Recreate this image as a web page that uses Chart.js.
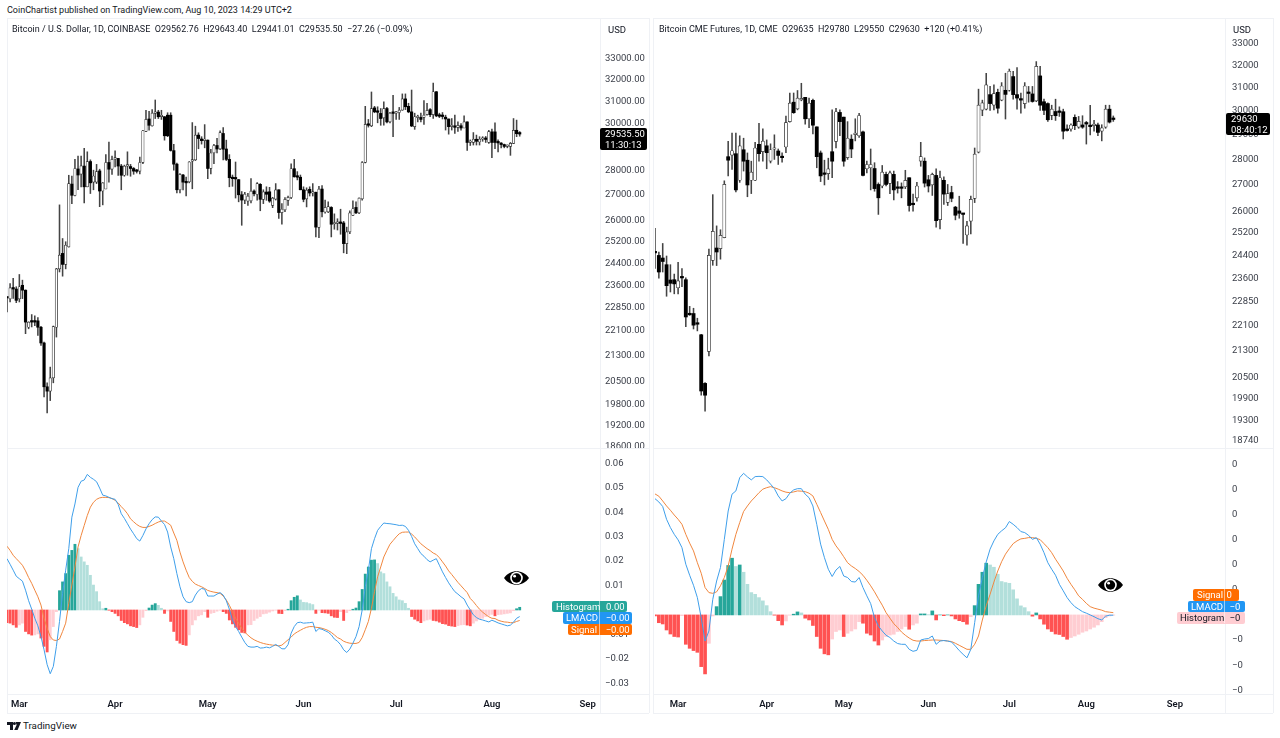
<!DOCTYPE html>
<html>
<head>
<meta charset="utf-8">
<title>Bitcoin vs CME Futures</title>
<script src="https://cdn.jsdelivr.net/npm/chart.js@4/dist/chart.umd.min.js"></script>
<style>
body { margin: 0; background: #fff; font-family: Roboto, sans-serif; color: #131722; }
#page { position: relative; width: 1280px; height: 738px; overflow: hidden; }
#page canvas { position: absolute; }
.txt { position: absolute; font-size: 9px; line-height: 12px; white-space: pre; }
.line { position: absolute; background: #eff1f5; }
.tag { position: absolute; height: 11.5px; line-height: 11.5px; font-size: 9.5px; color: #fff; white-space: pre; text-align: right; border-radius: 2px; }
.price { position: absolute; background: #000; color: #fff; font-size: 9.5px; line-height: 11px; padding: 0 0 0 5px; border-radius: 2px; white-space: pre; }
svg { position: absolute; }
</style>
</head>
<body>
<div id="page">
  <div class="line" style="left:7px;top:18px;width:642px;height:1px"></div>
  <div class="line" style="left:7px;top:448px;width:642px;height:1px"></div>
  <div class="line" style="left:7px;top:694px;width:642px;height:1px"></div>
  <div class="line" style="left:7px;top:713px;width:642px;height:1px"></div>
  <div class="line" style="left:7px;top:18px;width:1px;height:695px"></div>
  <div class="line" style="left:600px;top:18px;width:1px;height:695px"></div>
  <div class="line" style="left:649px;top:18px;width:1px;height:695px"></div>
  <div class="line" style="left:653px;top:18px;width:620px;height:1px"></div>
  <div class="line" style="left:653px;top:448px;width:620px;height:1px"></div>
  <div class="line" style="left:653px;top:694px;width:620px;height:1px"></div>
  <div class="line" style="left:653px;top:713px;width:620px;height:1px"></div>
  <div class="line" style="left:653px;top:18px;width:1px;height:695px"></div>
  <div class="line" style="left:1225px;top:18px;width:1px;height:695px"></div>
  <div class="line" style="left:1273px;top:18px;width:1px;height:695px"></div>

  <canvas id="btcPrice" width="642" height="430" style="left:7px;top:18px"></canvas>
  <canvas id="btcMacd" width="642" height="264" style="left:7px;top:449px"></canvas>
  <canvas id="cmePrice" width="620" height="430" style="left:653px;top:18px"></canvas>
  <canvas id="cmeMacd" width="620" height="264" style="left:653px;top:449px"></canvas>

  <div class="txt" style="left:7px;top:4px">CoinChartist published on TradingView.com, Aug 10, 2023 14:29 UTC+2</div>
  <div class="txt" style="left:12px;top:23px">Bitcoin / U.S. Dollar, 1D, COINBASE  O29562.76  H29643.40  L29441.01  C29535.50  −27.26 (−0.09%)</div>
  <div class="txt" style="left:659px;top:23px">Bitcoin CME Futures, 1D, CME  O29635  H29780  L29550  C29630  +120 (+0.41%)</div>
  <div class="txt" style="left:608px;top:24px;font-size:9.5px">USD</div>
  <div class="txt" style="left:1233px;top:24px;font-size:9.5px">USD</div>

  <div class="price" style="left:600px;top:128px;width:42px;height:22px">29535.50
11:30:13</div>
  <div class="price" style="left:1226px;top:113px;width:39px;height:22px">29630
08:40:12</div>

  <div class="tag" style="left:552px;top:600.5px;width:75px;background:#26a69a"><span style="position:absolute;left:4px">Histogram</span>0.00 </div>
  <div class="tag" style="left:563px;top:612px;width:69px;background:#2196f3"><span style="position:absolute;left:3px">LMACD</span>−0.00 </div>
  <div class="tag" style="left:568px;top:623.5px;width:64px;background:#ff6d00"><span style="position:absolute;left:3px">Signal</span>−0.00 </div>
  <div class="line" style="left:599px;top:600px;width:1px;height:35px;background:#ffffff88"></div>

  <div class="tag" style="left:1193px;top:589px;width:46px;background:#ff6d00"><span style="position:absolute;left:4px">Signal</span>0   </div>
  <div class="tag" style="left:1188px;top:600.5px;width:57px;background:#2196f3"><span style="position:absolute;left:3px">LMACD</span>−0  </div>
  <div class="tag" style="left:1177px;top:612px;width:68px;background:#ffcdd2;color:#131722"><span style="position:absolute;left:3px">Histogram</span>−0  </div>
  <div class="line" style="left:1224px;top:589px;width:1px;height:34px;background:#ffffff88"></div>

  <svg style="left:504px;top:569px" width="25" height="18" viewBox="0 0 25 18"><path d="M0 9C6 0 19 0 25 9C19 18 6 18 0 9Z" fill="#000"/><circle cx="12.5" cy="9" r="6.3" fill="#fff"/><circle cx="12.5" cy="9" r="4.7" fill="#000"/><circle cx="10.6" cy="7.2" r="1.4" fill="#fff"/></svg>
  <svg style="left:1098px;top:576px" width="25" height="18" viewBox="0 0 25 18"><path d="M0 9C6 0 19 0 25 9C19 18 6 18 0 9Z" fill="#000"/><circle cx="12.5" cy="9" r="6.3" fill="#fff"/><circle cx="12.5" cy="9" r="4.7" fill="#000"/><circle cx="10.6" cy="7.2" r="1.4" fill="#fff"/></svg>

  <svg style="left:7px;top:722px" width="14" height="8" viewBox="0 0 14 8"><path d="M0 0H6V8H3V3H0Z M8.6 0H14L10.6 8H7.2L9.6 3Z" fill="#131722"/><circle cx="7.4" cy="1.5" r="1.5" fill="#131722"/></svg>
  <div class="txt" style="left:23px;top:720px;font-size:9.8px">TradingView</div>
</div>

<script>
// tick labels
var monthNames = ["Mar", "Apr", "May", "Jun", "Jul", "Aug", "Sep"];
var btcMonthIndex = [4, 35, 65, 96, 126, 157, 188];
var cmeMonthIndex = [6, 29, 49, 71, 92, 112, 135];
var btcPriceTicks = [33000, 32000, 31000, 30000, 29000, 28000, 27000, 26000, 25200, 24400, 23600, 22850, 22100, 21300, 20500, 19800, 19200, 18600];
var cmePriceTicks = [33000, 32000, 31000, 30000, 29000, 28000, 27000, 26000, 25200, 24400, 23600, 22850, 22100, 21300, 20500, 19900, 19300, 18740];
var macdTicks = [600, 500, 400, 300, 200, 100, 0, -100, -200, -300]; // in 0.0001

// Coinbase BTCUSD daily, from Feb 25
var btcOpen = [23200,23150,23510,23490,23150,23620,23450,22200,22400,22420,22410,22200,21690,20330,20200,20600,22200,24200,24760,24360,25000,27430,26970,28050,27840,28170,27320,28360,27510,27510,27970,27150,27230,28320,28040,28460,28490,28170,27790,28170,28150,28070,27960,27960,28320,29650,30200,29890,30450,30510,30300,30300,30370,30370,28820,28250,27200,27800,27540,27520,28380,28430,29490,29320,29250,29270,28070,28720,29040,28890,29560,28890,28450,27690,27650,27610,27000,26790,26750,26760,27150,27010,27420,26820,27110,27120,26580,26830,27200,26300,26400,26780,26890,28060,27730,27710,27200,26840,27220,27070,27100,25730,27230,26320,26330,26500,25860,25880,25900,25900,25120,25560,26190,26500,26290,26840,28320,29970,29890,30700,30520,30450,30250,30670,30070,30480,30460,30490,30600,31110,30770,30520,29860,30260,30270,30270,30390,30620,30390,31440,30340,30320,30280,30200,29860,29890,29830,29900,29800,30070,29170,29170,29310,29190,29310,29330,29170,29630,29630,29170,29130,29080,29000,29000,29130,29700,29562.76];
var btcHigh = [23220,23680,23860,23570,24000,23800,23460,22380,22620,22580,22520,22230,21720,20450,20930,22240,24220,26600,25310,25190,27790,27760,28450,28590,28590,28920,28770,28430,28000,28240,28040,27490,28650,29190,28590,28810,28490,28240,28210,28770,28240,28110,28030,28550,29700,30590,30540,30620,31060,30590,30590,30310,30480,30480,29090,28290,27860,27830,27720,28360,30040,29880,29590,29420,29950,29280,28880,29090,29350,29680,29820,29270,28650,27800,28340,27620,27130,27100,27060,27650,27200,27490,27450,27200,27320,27300,26900,27450,27200,26650,26890,26950,28260,28450,27940,27800,27320,27280,27320,27450,27110,27340,27370,26790,26720,26530,26250,26060,26430,25960,25740,26370,26760,26720,26880,28360,30770,30180,31430,30770,30750,30670,30980,30720,30500,31270,30530,30720,31340,31340,30910,31520,30460,30370,30460,31030,30910,30670,31840,31450,30460,30490,30370,30200,30220,30370,30070,30000,30340,30070,29280,29600,29490,29420,29420,29430,29700,29750,30030,29280,29170,29100,29060,29170,30220,30150,29643.40];
var btcLow = [22710,23045,23165,23020,23045,23160,21990,22150,22210,22250,21930,21615,20030,19560,19920,20450,21880,24090,23940,24200,24990,26650,26950,27200,27320,26680,27320,27050,27200,27450,26530,26600,27230,27510,27820,28130,27780,27200,27750,27790,27750,27830,27880,27850,28270,29640,29710,29880,30220,30220,30180,29270,29420,28800,28000,27070,27070,27190,26950,27480,27240,28400,28900,29100,28940,27650,27850,28270,28720,28860,28430,28400,27320,27340,26870,26720,25810,26650,26580,26680,26950,26790,26370,26650,26780,26700,26490,26790,26070,25850,26330,26580,26850,27710,27600,27200,26720,26520,26950,26950,25370,25340,26130,26280,26300,25370,25660,25630,25470,24780,24750,25490,26190,26260,26260,26790,28300,29840,29860,30480,30030,29920,29920,30030,30030,29420,30180,30180,30590,30620,30480,29860,29740,30070,30070,29960,30370,30300,30220,30300,30260,30200,29710,29530,29710,29560,29650,29710,29800,28830,29040,29060,29060,29060,29220,29170,29130,28520,28900,28770,28940,28940,28940,28620,29120,29420,29441.01];
var btcClose = [23180,23530,23490,23100,23570,23450,22370,22370,22370,22370,22200,21690,20330,20200,20600,22220,24200,24700,24360,25060,27450,26980,28070,27800,28180,27320,28360,27480,27760,27940,27150,27480,28320,28040,28450,28490,28170,27790,28170,28190,28070,27960,27950,28320,29680,30180,29920,30460,30490,30300,30310,29460,29460,28830,28250,27200,27830,27510,27480,28340,28440,29490,29340,29250,29320,28070,28720,29040,28890,29600,28880,28450,27690,27650,27640,27000,26790,27030,26950,27150,27040,27450,26820,27120,27020,26750,26870,27200,26300,26430,26820,26900,28060,27730,27710,27200,26820,27190,27070,27100,25740,27230,26330,26500,26530,25850,25870,25900,25880,25120,25560,26290,26450,26290,26870,28320,29960,29920,30670,30520,30500,30220,30670,30070,30460,30450,30490,30600,31110,30750,30520,29890,30300,30270,30180,30370,30590,30390,31440,30340,30320,30310,30200,29860,29920,29830,29920,29800,30070,29170,29190,29310,29220,29310,29330,29300,29640,29170,29170,29150,29080,29000,29000,29130,29700,29550,29535.50];

// LMACD panel, Coinbase, in 0.0001
var btcMacdLine = [210,187,163,138,128,118,81,38,3,-34,-65,-109,-163,-224,-261,-231,-149,-47,68,163,251,380,434,502,527,532,555,543,535,525,499,470,467,461,456,453,432,394,375,353,331,312,292,282,305,332,353,370,381,380,364,350,319,258,210,149,95,54,34,30,34,61,79,88,85,57,57,57,65,71,61,38,3,-41,-68,-88,-111,-133,-149,-152,-152,-149,-156,-155,-152,-155,-149,-141,-149,-159,-159,-142,-95,-68,-52,-50,-54,-53,-52,-50,-88,-76,-79,-85,-91,-102,-119,-128,-142,-163,-174,-160,-136,-109,-68,0,95,163,251,292,326,342,356,354,353,351,349,346,347,342,326,301,271,251,231,220,206,197,204,210,183,156,133,111,92,75,65,54,45,20,0,-20,-31,-38,-41,-45,-49,-42,-47,-53,-57,-61,-65,-62,-50,-34,-27];
var btcSignal = [261,244,224,210,197,183,160,133,109,81,54,20,-34,-75,-109,-123,-125,-119,-88,-54,27,102,176,258,305,346,387,421,441,453,459,461,461,460,456,449,438,423,410,394,373,361,350,342,338,338,342,347,354,360,364,364,356,347,315,285,237,197,163,133,117,106,100,95,88,80,76,73,71,68,57,41,19,-7,-34,-54,-75,-91,-103,-114,-122,-128,-133,-137,-140,-142,-144,-145,-147,-144,-133,-122,-111,-98,-90,-83,-76,-71,-68,-68,-71,-72,-75,-79,-84,-92,-102,-113,-119,-128,-133,-136,-137,-137,-133,-113,-81,-47,7,75,136,176,217,244,269,284,299,312,318,319,319,311,299,285,271,261,251,243,233,227,214,197,180,160,145,129,113,99,85,71,47,34,18,3,-9,-19,-28,-34,-35,-42,-46,-49,-50,-52,-52,-47,-43];
var btcHist = [-52,-54,-61,-71,-61,-54,-88,-98,-103,-102,-98,-115,-149,-172,-122,-68,-7,79,115,149,224,244,269,251,217,197,183,142,102,75,34,5,7,-1,-7,-14,-24,-43,-52,-57,-65,-68,-72,-61,-30,-3,8,20,26,19,7,-14,-4,-47,-88,-125,-136,-142,-145,-102,-61,-41,-24,-20,-7,-30,-14,-11,-5,-1,-7,-14,-41,-57,-71,-81,-92,-94,-61,-60,-43,-34,-27,-16,-14,-9,-4,-1,-14,-15,-3,3,38,52,58,41,31,30,26,22,-14,-1,-11,-12,-14,-24,-30,-31,-7,-43,-11,-3,3,8,34,84,147,176,204,205,190,156,149,115,95,68,54,41,38,27,7,-27,-38,-45,-52,-45,-41,-38,-43,-45,-50,-56,-58,-64,-66,-68,-64,-61,-60,-62,-65,-54,-45,-38,-34,-27,-22,-18,-24,-19,-18,-16,-14,-12,-3,5,11];

// CME BTC futures daily, trading days only
var cmeOpen = [24530,24410,24320,24090,23570,23580,23310,23670,23580,22470,22470,22160,21800,20340,21290,24240,24670,24650,25040,28100,28160,28220,27170,28380,27960,27170,27170,28600,28300,28540,27920,28400,28330,28090,28490,29540,30370,30080,30470,30580,29660,30450,29320,28250,27420,27430,28300,28720,29930,29730,28060,28810,29000,28950,29110,27620,27660,27630,27010,26950,27400,27050,27400,26880,26870,26920,27270,26250,26500,27920,27920,27190,26990,27360,25690,27170,26330,26700,26150,26010,25900,25130,25630,26480,28280,30030,30070,30700,30240,30800,30460,30890,30890,31500,30700,30480,30310,30770,30730,30430,31530,30390,30310,29800,29970,29950,29960,29180,29230,29720,29310,29400,29450,29340,29370,29400,29140,29310,30070,29635];
var cmeHigh = [25370,24530,24830,24390,24090,23770,24170,23960,23640,22700,22640,22320,21810,20360,24630,26620,25460,25320,27150,28720,29060,29060,28950,28850,28250,27920,28680,29470,29240,28780,28620,28990,28410,28250,29770,30770,30770,30880,31200,30580,30550,30510,29320,28330,27960,28040,30040,30110,30040,29730,29540,28990,29660,29890,29140,27920,28410,27860,27070,27750,27490,27530,27530,27120,27070,27560,27270,26640,27090,28680,28050,27360,27450,27620,27530,27300,27010,26940,26180,26560,25900,25630,26570,28450,30940,30460,31650,31060,31130,30940,31230,31650,31840,31740,31910,30770,31230,31060,31060,32180,31960,30500,30340,30240,30500,30170,30070,29410,29450,29830,29760,29790,29550,30230,29590,29480,29410,30240,30240,29780];
var cmeLow = [23960,23630,23840,23030,23170,23110,23110,23350,22050,22410,21980,21920,20000,19550,21150,24070,24060,24280,25030,27340,27590,26720,27090,27530,26540,26660,27160,27920,27920,27620,27850,27990,27790,27880,28260,29520,29890,30040,30430,29430,29290,29030,27660,27120,26990,27200,27270,28450,28950,27720,27990,28060,28740,28880,27340,27460,26800,26750,25880,26880,26950,26660,26420,26680,26500,26850,26000,26000,26370,27720,26910,26720,26590,25410,25350,26250,26210,26350,25680,25740,24830,24770,25170,26320,28250,29790,30040,30020,30040,29900,30430,29650,30850,30500,30070,29900,30110,30370,30370,30390,30020,29830,29550,29620,29590,29760,28820,29140,29140,29200,29260,29260,28610,28990,29140,28950,28740,29260,29480,29550];
var cmeClose = [24500,23840,24200,23380,23460,23440,23540,23640,22360,22430,22100,22130,20120,20000,24410,25260,24530,25120,27010,27960,28340,26800,28540,27920,26990,27490,28450,28220,28730,28260,28380,28410,28150,28060,29500,30330,29920,30550,30490,29660,30330,29390,28100,27340,27400,27620,27920,29960,29540,27920,28850,28410,29010,29800,27360,27790,27790,26850,26500,27490,27010,27460,26800,26860,26860,27170,26210,26240,26950,28100,27060,26950,27400,25650,27270,26640,26660,26480,25850,25920,25880,25460,26440,28200,30240,30340,31130,30310,30740,30110,31080,30710,31740,30700,30550,30460,31080,30750,30400,31960,30240,30020,29620,30070,29790,29930,29140,29170,29400,29370,29550,29310,29440,29330,29390,29090,29280,30070,29520,29630];

// LMACD panel, CME, in 0.0001
var cmeMacdLine = [463,450,432,381,348,321,299,268,202,158,118,69,-11,-104,-64,62,135,189,301,414,481,494,547,564,550,538,551,552,551,538,521,503,474,454,463,485,498,503,503,481,467,434,361,282,228,182,153,179,193,155,149,133,131,149,109,76,45,-11,-44,-64,-81,-90,-104,-114,-117,-117,-137,-145,-141,-100,-96,-94,-84,-117,-104,-102,-104,-108,-124,-142,-157,-171,-137,-31,76,149,211,262,295,321,335,347,372,361,348,332,328,317,301,308,282,248,208,182,158,122,96,69,49,33,23,13,7,0,-7,-15,-20,-5,-1,-1];
var cmeSignal = [482,473,454,434,417,398,381,361,321,286,255,208,166,109,89,86,92,116,149,195,262,321,368,412,434,454,470,487,501,507,511,507,501,494,489,487,490,494,493,491,485,474,441,408,374,341,301,275,255,232,208,195,185,173,158,138,116,92,65,39,9,-13,-35,-50,-68,-81,-92,-101,-104,-104,-102,-101,-100,-100,-101,-102,-104,-106,-113,-121,-129,-137,-137,-117,-84,-20,36,82,131,175,212,242,264,284,295,303,305,308,308,305,300,284,268,248,222,199,175,146,122,100,76,62,46,33,27,23,19,13,11,9];
var cmeHist = [-4,-31,-36,-60,-76,-86,-88,-3,-117,-133,-142,-149,-206,-235,-113,-4,33,73,139,197,226,193,199,170,122,89,82,69,56,37,13,-1,-23,-40,-24,-1,3,12,8,-13,-20,-42,-86,-133,-155,-159,-96,-66,-60,-86,-73,-64,-56,-27,-33,-73,-80,-104,-120,-100,-86,-80,-77,-66,-56,-46,-57,-40,-33,4,4,1,16,-20,0,-3,0,-4,-16,-23,-27,-37,-7,37,122,170,206,199,190,162,133,129,126,100,64,36,29,13,-5,8,-16,-37,-56,-66,-76,-78,-86,-97,-90,-84,-77,-69,-64,-56,-49,-40,-27,-11,-4,-1];

Chart.defaults.font.family = "Roboto, sans-serif";
Chart.defaults.font.size = 9.5;
Chart.defaults.color = "#131722";

function etiquetasEje(total, indices) {
    var etiquetas = new Array(total).fill("");
    indices.forEach(function (ind, i) { etiquetas[ind] = monthNames[i]; });
    return etiquetas;
}

// sin esto el layout mete margen por las etiquetas de los extremos
function sinPadding(s) {
    s.paddingTop = 0;
    s.paddingBottom = 0;
    s.paddingLeft = 0;
    s.paddingRight = 0;
}

function pintarVelas(canvasId, o, h, l, c, p) {
    var velas = o.map(function (v, i) { return [v, c[i]]; });
    var mechas = l.map(function (v, i) { return [v, h[i]]; });
    var subida = o.map(function (v, i) { return c[i] >= v; });
    new Chart(document.getElementById(canvasId), {
        type: "bar",
        data: {
            labels: etiquetasEje(p.total, p.meses),
            datasets: [{
                data: velas,
                barThickness: p.ancho,
                minBarLength: 1.5,
                backgroundColor: subida.map(function (s) { return s ? "#ffffff" : "#000000"; }),
                borderColor: "#2a2a2a",
                borderWidth: subida.map(function (s) { return s ? 0.7 : 0; }),
                borderSkipped: false
            }, {
                data: mechas,
                barThickness: 0.9,
                backgroundColor: "#444444",
                borderWidth: 0
            }]
        },
        options: {
            responsive: false,
            animation: false,
            events: [],
            layout: { padding: { left: p.izq } },
            datasets: { bar: { grouped: false } },
            plugins: { legend: { display: false }, tooltip: { enabled: false } },
            scales: {
                x: { display: false, offset: false, grid: { display: false } },
                y: {
                    type: "logarithmic",
                    position: "right",
                    min: p.min,
                    max: p.max,
                    grid: { display: false, drawTicks: false },
                    border: { display: false },
                    afterBuildTicks: function (s) { s.ticks = p.ticks.map(function (v) { return { value: v }; }); },
                    afterFit: function (s) { s.width = p.ejeAncho; sinPadding(s); },
                    ticks: {
                        autoSkip: false,
                        padding: p.pad,
                        color: "#3a3e48",
                        callback: function (v) { return v.toFixed(p.dec); }
                    }
                }
            }
        }
    });
}

function pintarMacd(canvasId, linea, senal, hist, p) {
    var colores = hist.map(function (v, i) {
        var prev = i ? hist[i - 1] : 0;
        if (v >= 0) return v >= prev ? "#26a69a" : "#b2dfdb";
        return v <= prev ? "#ff5252" : "#ffcdd2";
    });
    new Chart(document.getElementById(canvasId), {
        type: "bar",
        data: {
            labels: etiquetasEje(p.total, p.meses),
            datasets: [
                { type: "line", data: linea, borderColor: "#3f9fea", borderWidth: 1, pointRadius: 0, tension: 0 },
                { type: "line", data: senal, borderColor: "#f0873f", borderWidth: 1, pointRadius: 0, tension: 0 },
                { data: hist, backgroundColor: colores, barThickness: p.ancho, borderWidth: 0 }
            ]
        },
        options: {
            responsive: false,
            animation: false,
            events: [],
            layout: { padding: { left: p.izq } },
            plugins: { legend: { display: false }, tooltip: { enabled: false } },
            scales: {
                x: {
                    offset: false,
                    grid: { display: false, drawTicks: false },
                    border: { display: false },
                    afterFit: function (s) { s.height = 19; sinPadding(s); },
                    ticks: { autoSkip: false, maxRotation: 0, padding: 5, font: { weight: "600" } }
                },
                y: {
                    position: "right",
                    min: p.min,
                    max: p.max,
                    grid: { display: false, drawTicks: false },
                    border: { display: false },
                    afterBuildTicks: function (s) { s.ticks = macdTicks.map(function (v) { return { value: v }; }); },
                    afterFit: function (s) { s.width = p.ejeAncho; sinPadding(s); },
                    ticks: { autoSkip: false, padding: p.pad, color: "#3a3e48", callback: p.formato }
                }
            }
        }
    });
}

pintarVelas("btcPrice", btcOpen, btcHigh, btcLow, btcClose, {
    total: 193, meses: btcMonthIndex, ticks: btcPriceTicks, ancho: 2.5, izq: 0,
    min: 18572, max: 35060, ejeAncho: 49, pad: 5, dec: 2
});
pintarVelas("cmePrice", cmeOpen, cmeHigh, cmeLow, cmeClose, {
    total: 149, meses: cmeMonthIndex, ticks: cmePriceTicks, ancho: 3.2, izq: 2,
    min: 18550, max: 34243, ejeAncho: 48, pad: 7, dec: 0
});
pintarMacd("btcMacd", btcMacdLine, btcSignal, btcHist, {
    total: 193, meses: btcMonthIndex, ancho: 2.2, izq: 0, min: -344, max: 659, ejeAncho: 49, pad: 5,
    formato: function (v) { return (v < 0 ? "−" : "") + (Math.abs(v) / 10000).toFixed(2); }
});
pintarMacd("cmeMacd", cmeMacdLine, cmeSignal, cmeHist, {
    total: 149, meses: cmeMonthIndex, ancho: 3, izq: 2, min: -315, max: 661, ejeAncho: 48, pad: 7,
    formato: function (v) { return v < 0 ? "−0" : "0"; }
});
</script>
</body>
</html>
